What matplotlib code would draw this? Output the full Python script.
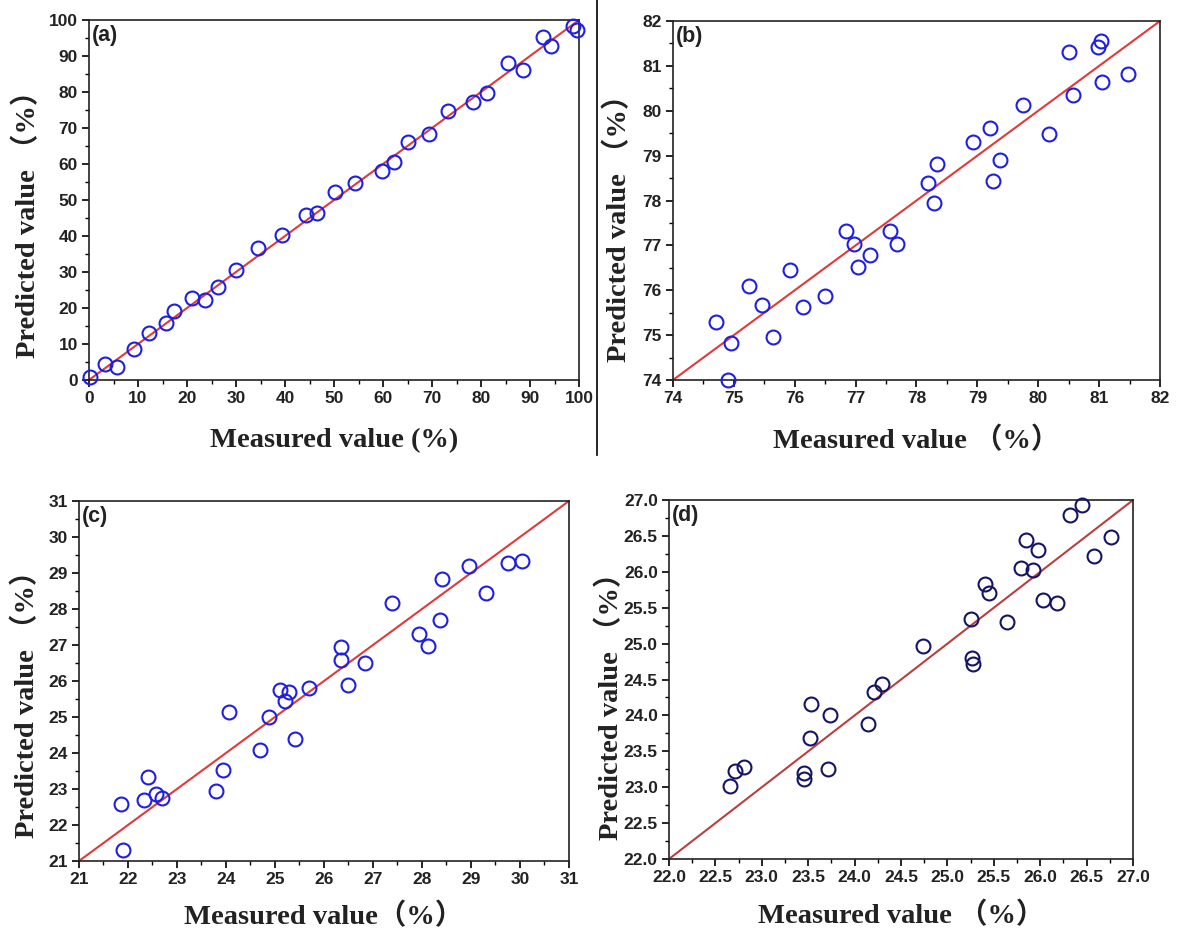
import matplotlib
matplotlib.use("Agg")
import matplotlib.pyplot as plt
from matplotlib.ticker import MultipleLocator, FormatStrFormatter
from matplotlib.lines import Line2D

# ---------------- data ----------------
a_measured = [0.2, 3.3, 5.7, 9.2, 12.2, 15.7, 17.4, 21.0, 23.6, 26.3, 29.9, 34.5, 39.3,
              44.2, 46.6, 50.2, 54.3, 59.8, 62.2, 65.1, 69.4, 73.3, 78.3, 81.3, 85.6,
              88.6, 92.6, 94.2, 98.7, 99.5]
a_predicted = [0.8, 4.4, 3.7, 8.6, 13.1, 15.7, 19.1, 22.9, 22.2, 25.7, 30.6, 36.6, 40.3,
               45.8, 46.3, 52.3, 54.8, 58.1, 60.6, 66.0, 68.2, 74.8, 77.1, 79.8, 88.1,
               86.1, 95.2, 92.9, 98.3, 97.2]

b_measured = [74.71, 74.95, 74.91, 75.25, 75.47, 75.65, 75.93, 76.14, 76.49, 76.85, 76.97,
              77.04, 77.23, 77.56, 77.68, 78.19, 78.33, 78.29, 78.92, 79.20, 79.26, 79.37,
              79.75, 80.18, 80.50, 80.57, 80.98, 81.03, 81.04, 81.47]
b_predicted = [75.29, 74.83, 74.01, 76.09, 75.68, 74.95, 76.45, 75.62, 75.87, 77.32, 77.04,
               76.52, 76.78, 77.32, 77.03, 78.39, 78.81, 77.95, 79.30, 79.61, 78.43, 78.90,
               80.12, 79.48, 81.30, 80.35, 81.42, 81.55, 80.64, 80.81]

c_measured = [21.85, 21.90, 22.33, 22.41, 22.57, 22.70, 23.80, 23.93, 24.07, 24.69, 24.87,
              25.10, 25.21, 25.29, 25.40, 25.69, 26.34, 26.34, 26.49, 26.83, 27.39, 27.94,
              28.13, 28.37, 28.41, 28.96, 29.30, 29.75, 30.05]
c_predicted = [22.58, 21.31, 22.69, 23.33, 22.85, 22.76, 22.94, 23.52, 25.13, 24.09, 25.00,
               25.76, 25.44, 25.69, 24.38, 25.80, 26.94, 26.59, 25.89, 26.51, 28.17, 27.31,
               26.96, 27.69, 28.83, 29.20, 28.44, 29.28, 29.32]

d_measured = [22.66, 22.71, 22.81, 23.45, 23.46, 23.52, 23.53, 23.71, 23.74, 24.14, 24.21,
              24.30, 24.74, 25.25, 25.26, 25.28, 25.40, 25.45, 25.64, 25.79, 25.85, 25.92,
              25.98, 26.03, 26.18, 26.32, 26.45, 26.58, 26.76]
d_predicted = [23.02, 23.23, 23.28, 23.20, 23.12, 23.68, 24.16, 23.25, 24.00, 23.88, 24.33,
               24.44, 24.97, 25.34, 24.80, 24.72, 25.83, 25.70, 25.30, 26.06, 26.45, 26.03,
               26.31, 25.61, 25.56, 26.79, 26.93, 26.22, 26.48]

panel_labels = ["(a)", "(b)", "(c)", "(d)"]
x_labels = ["Measured value (%)", "Measured value \uff08%\uff09",
            "Measured value\uff08%\uff09", "Measured value \uff08%\uff09"]
y_label = "Predicted value \uff08%\uff09"
limits = [(0, 100), (74, 82), (21, 31), (22.0, 27.0)]
major_steps = [10, 1, 1, 0.5]
tick_formats = ["%d", "%d", "%d", "%.1f"]

# ---------------- figure ----------------
fig = plt.figure(figsize=(11.79, 9.3), dpi=100)

positions = [
    [0.0755, 0.5914, 0.4156, 0.3871],
    [0.5708, 0.5914, 0.4131, 0.3860],
    [0.0670, 0.0742, 0.4156, 0.3871],
    [0.5674, 0.0763, 0.3936, 0.3860],
]
marker_colors = ["#1f1fe0", "#1f1fe0", "#1f1fe0", "#141466"]
line_colors = ["#e03a3a", "#e03a3a", "#e03a3a", "#b84040"]
datasets = [(a_measured, a_predicted), (b_measured, b_predicted),
            (c_measured, c_predicted), (d_measured, d_predicted)]
xlabel_pads = [16, 15, 11, 12]
ylabel_coords = [(-0.097, 0.452), (-0.084, 0.443), (-0.080, 0.455), (-0.097, 0.445)]

label_font = ["Liberation Serif", "Noto Sans CJK SC", "DejaVu Sans"]

for i, ax_pos in enumerate(positions):
    ax = fig.add_axes(ax_pos)
    lo, hi = limits[i]
    xs, ys = datasets[i]
    ax.plot([lo, hi], [lo, hi], color=line_colors[i], lw=1.5, zorder=2)
    ax.plot(xs, ys, linestyle="none", marker="o", markersize=10,
            markerfacecolor="none", markeredgecolor=marker_colors[i],
            markeredgewidth=1.5, zorder=3, clip_on=False)
    ax.set_xlim(lo, hi)
    ax.set_ylim(lo, hi)
    ax.xaxis.set_major_locator(MultipleLocator(major_steps[i]))
    ax.yaxis.set_major_locator(MultipleLocator(major_steps[i]))
    ax.xaxis.set_minor_locator(MultipleLocator(major_steps[i] / 2))
    ax.yaxis.set_minor_locator(MultipleLocator(major_steps[i] / 2))
    ax.xaxis.set_major_formatter(FormatStrFormatter(tick_formats[i]))
    ax.yaxis.set_major_formatter(FormatStrFormatter(tick_formats[i]))
    ax.tick_params(which="major", direction="out", length=5, width=1.2,
                   labelsize=12.5, pad=3, top=False, right=False)
    ax.tick_params(which="minor", direction="out", length=3, width=1.0,
                   top=False, right=False)
    for lab in ax.get_xticklabels() + ax.get_yticklabels():
        lab.set_fontfamily("Liberation Sans")
        lab.set_fontweight("bold")
        lab.set_color("#222222")
    for sp in ax.spines.values():
        sp.set_linewidth(1.2)
        sp.set_color("#222222")
    ax.set_xlabel(x_labels[i], family=label_font, fontweight="bold",
                  fontsize=20.5, labelpad=xlabel_pads[i], color="#222222")
    ax.set_ylabel(y_label, family=label_font, fontweight="bold",
                  fontsize=20.5, color="#222222")
    ax.yaxis.set_label_coords(*ylabel_coords[i])
    ax.text(0.006, 0.985, panel_labels[i], transform=ax.transAxes,
            ha="left", va="top", family="Liberation Sans", fontweight="bold",
            fontsize=15.5, color="#222222")

# vertical divider line between top panels
fig.add_artist(Line2D([597 / 1179, 597 / 1179], [1.0, 1 - 455 / 930],
                      transform=fig.transFigure, color="black", lw=1.2))

fig.savefig("out.png", dpi=100)
